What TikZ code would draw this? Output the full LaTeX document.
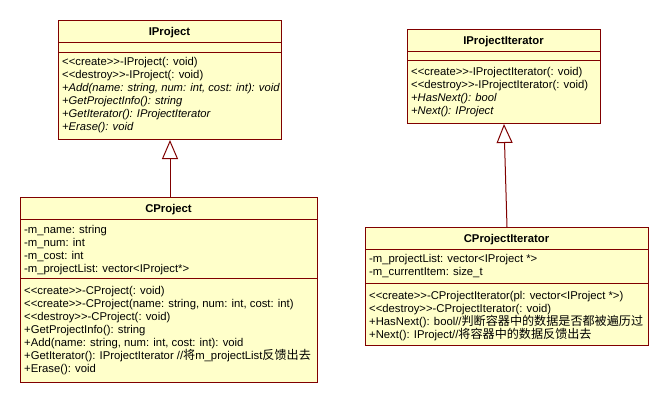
\documentclass[tikz,border=0pt]{standalone}
\usepackage{fontspec}
\setmainfont{Liberation Sans}
\newfontfamily\cjk{Noto Sans CJK SC}
\newcommand{\zhtext}[1]{{\cjk\fontsize{12.1}{13}\selectfont #1}}
\usetikzlibrary{arrows.meta}
\definecolor{umlfill}{RGB}{255,255,202}
\definecolor{umlline}{RGB}{128,0,0}
\begin{document}
\begin{tikzpicture}[x=1pt,y=-1pt,
  classbox/.style={draw=umlline, fill=umlfill, line width=1pt, inner sep=0pt, anchor=north west},
  sepline/.style={draw=umlline, line width=1pt},
  txt/.style={anchor=base west, inner sep=0pt, font=\fontsize{11.3}{13}\selectfont},
  itxt/.style={anchor=base west, inner sep=0pt, font=\fontsize{11.2}{13}\selectfont\itshape},
  head/.style={anchor=base, inner sep=0pt, font=\fontsize{11.3}{13}\selectfont\bfseries},
  inherit/.style={draw=umlline, line width=1pt, -{Triangle[open, length=19pt, width=16pt, fill=white]}}
]
\useasboundingbox[fill=white] (0,0) rectangle (669,402);

% ---------- IProject ----------
\node[classbox, minimum width=223pt, minimum height=119pt] (iproj) at (58,20) {};
\draw[sepline] (iproj.west |- 0,42) -- (iproj.east |- 0,42);
\draw[sepline] (iproj.west |- 0,52) -- (iproj.east |- 0,52);
\node[head] (iph) at (169.5,35) {IProject};
\node[txt]  (ip1) at (62,65.5)  {<{}<create>{}>-IProject(: void)};
\node[txt]  (ip2) at (62,78.5)  {<{}<destroy>{}>-IProject(: void)};
\node[itxt] (ip3) at (62,91.5)  {+Add(name: string, num: int, cost: int): void};
\node[itxt] (ip4) at (62,104.5) {+GetProjectInfo(): string};
\node[itxt] (ip5) at (62,117.5) {+GetIterator(): IProjectIterator};
\node[itxt] (ip6) at (62,130.5) {+Erase(): void};

% ---------- IProjectIterator ----------
\node[classbox, minimum width=193pt, minimum height=94pt] (iiter) at (407,29) {};
\draw[sepline] (iiter.west |- 0,51) -- (iiter.east |- 0,51);
\draw[sepline] (iiter.west |- 0,60) -- (iiter.east |- 0,60);
\node[head] (iih) at (503.5,44) {IProjectIterator};
\node[txt]  (ii1) at (411,75)  {<{}<create>{}>-IProjectIterator(: void)};
\node[txt]  (ii2) at (411,88)  {<{}<destroy>{}>-IProjectIterator(: void)};
\node[itxt] (ii3) at (411,101) {+HasNext(): bool};
\node[itxt] (ii4) at (411,114) {+Next(): IProject};

% ---------- CProject ----------
\node[classbox, minimum width=297pt, minimum height=185pt] (cproj) at (20,197) {};
\draw[sepline] (cproj.west |- 0,219) -- (cproj.east |- 0,219);
\draw[sepline] (cproj.west |- 0,278) -- (cproj.east |- 0,278);
\node[head] (cph) at (168.5,212) {CProject};
\node[txt] (cpa1) at (24,233) {-m\_name: string};
\node[txt] (cpa2) at (24,246) {-m\_num: int};
\node[txt] (cpa3) at (24,259) {-m\_cost: int};
\node[txt] (cpa4) at (24,272) {-m\_projectList: vector<IProject*>};
\node[txt] (cpm1) at (24,294) {<{}<create>{}>-CProject(: void)};
\node[txt] (cpm2) at (24,307) {<{}<create>{}>-CProject(name: string, num: int, cost: int)};
\node[txt] (cpm3) at (24,320) {<{}<destroy>{}>-CProject(: void)};
\node[txt] (cpm4) at (24,333) {+GetProjectInfo(): string};
\node[txt] (cpm5) at (24,346) {+Add(name: string, num: int, cost: int): void};
\node[txt] (cpm6) at (24,359) {+GetIterator(): IProjectIterator //\zhtext{将}m\_projectList\zhtext{反馈出去}};
\node[txt] (cpm7) at (24,372) {+Erase(): void};

% ---------- CProjectIterator ----------
\node[classbox, minimum width=283pt, minimum height=118pt] (citer) at (365,227) {};
\draw[sepline] (citer.west |- 0,249) -- (citer.east |- 0,249);
\draw[sepline] (citer.west |- 0,283) -- (citer.east |- 0,283);
\node[head] (cih) at (506.5,242) {CProjectIterator};
\node[txt] (cia1) at (369,262) {-m\_projectList: vector<IProject *>};
\node[txt] (cia2) at (369,275) {-m\_currentItem: size\_t};
\node[txt] (cim1) at (369,299) {<{}<create>{}>-CProjectIterator(pl: vector<IProject *>)};
\node[txt] (cim2) at (369,312) {<{}<destroy>{}>-CProjectIterator(: void)};
\node[txt] (cim3) at (369,325) {+HasNext(): bool//\zhtext{判断容器中的数据是否都被遍历过}};
\node[txt] (cim4) at (369,338) {+Next(): IProject//\zhtext{将容器中的数据反馈出去}};

% ---------- inheritance ----------
\draw[inherit] (iproj.south |- cproj.north) -- (iproj.south);
\draw[inherit] (citer.north) -- (iiter.south);
\end{tikzpicture}
\end{document}
